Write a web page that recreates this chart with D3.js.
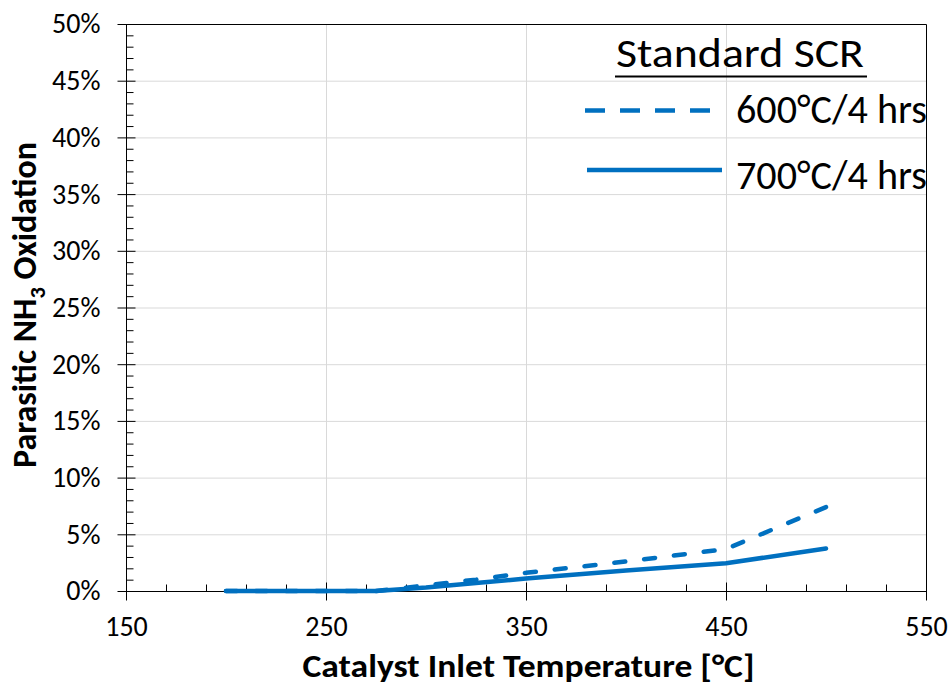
<!DOCTYPE html>
<html>
<head>
<meta charset="utf-8">
<script src="https://cdn.jsdelivr.net/npm/d3@7"></script>
<style>
  body { margin: 0; background: #fff; }
  svg { display: block; font-family: Carlito, Calibri, Lato, sans-serif; }
</style>
</head>
<body>
<svg id="chart" width="952" height="685"></svg>
<script>
// catalyst inlet temperature [°C]
var temps = [200, 250, 275, 300, 325, 350, 400, 450, 500];
// parasitic NH3 oxidation [%]
var ox600 = [0, 0, 0, 0.5, 1.0, 1.6, 2.6, 3.7, 7.4];
var ox700 = [0, 0, 0, 0.3, 0.7, 1.1, 1.8, 2.45, 3.75];
var xTicks = [150, 250, 350, 450, 550];
var yTicks = [0, 5, 10, 15, 20, 25, 30, 35, 40, 45, 50];
var seriesNames = ["600°C/4 hrs", "700°C/4 hrs"];

var blue = "#0070c0";
var svg = d3.select("#chart");

var x = d3.scaleLinear().domain([150, 550]).range([126, 926]);
var y = d3.scaleLinear().domain([0, 50]).range([591, 24]);

// gridlines
svg.append("g").selectAll("line.hg")
  .data(yTicks.slice(1, -1))
  .enter().append("line")
  .attr("x1", x(150)).attr("x2", x(550))
  .attr("y1", function(d) { return y(d) + 0.5; })
  .attr("y2", function(d) { return y(d) + 0.5; })
  .style("stroke", "#d9d9d9").style("stroke-width", 1);

svg.append("g").selectAll("line.vg")
  .data(xTicks.slice(1, -1))
  .enter().append("line")
  .attr("y1", y(0)).attr("y2", y(50))
  .attr("x1", function(d) { return x(d) + 0.5; })
  .attr("x2", function(d) { return x(d) + 0.5; })
  .style("stroke", "#d9d9d9").style("stroke-width", 1);

// frame top / right
svg.append("path")
  .attr("d", "M" + x(150) + "," + (y(50) + 0.5) + "H" + (x(550) + 0.5) + "V" + y(0))
  .style("fill", "none").style("stroke", "#000").style("stroke-width", 1);

// x axis: minor ticks point up, major ticks cross
var xAxis = svg.append("g").attr("transform", "translate(0," + (y(0) + 0.5) + ")");
xAxis.call(d3.axisBottom(x).tickValues(d3.range(150, 551, 20).filter(function(d) { return (d - 150) % 100 != 0; }))
  .tickSize(-7).tickFormat(""));
xAxis.select(".domain").attr("d", "M" + x(150) + ",0H" + x(550));
var xMajor = svg.append("g").attr("transform", "translate(0," + (y(0) + 0.5) + ")")
  .call(d3.axisBottom(x).tickValues(xTicks).tickSize(9).tickPadding(16).tickFormat(d3.format("d")));
xMajor.select(".domain").remove();
xMajor.selectAll(".tick line").attr("y1", -9);
xMajor.selectAll("text").style("font-size", "28px").style("fill", "#000");

// y axis
var yAxis = svg.append("g").attr("transform", "translate(" + (x(150) + 0.5) + ",0)");
yAxis.call(d3.axisLeft(y).tickValues(d3.range(0, 51, 1).filter(function(d) { return d % 5 != 0; }))
  .tickSize(-7).tickFormat(""));
yAxis.select(".domain").attr("d", "M0," + y(0) + "V" + y(50));
var yMajor = svg.append("g").attr("transform", "translate(" + (x(150) + 0.5) + ",0)")
  .call(d3.axisLeft(y).tickValues(yTicks).tickSize(9).tickPadding(17).tickFormat(function(d) { return d + "%"; }));
yMajor.select(".domain").remove();
yMajor.selectAll(".tick line").attr("x1", 9);
yMajor.selectAll("text").style("font-size", "28px").style("fill", "#000");

svg.selectAll(".tick line, .domain").style("stroke", "#000");
svg.selectAll("g").attr("font-family", null);

// lines
var line = d3.line()
  .x(function(d) { return x(d[0]); })
  .y(function(d) { return y(d[1]); });

svg.append("path")
  .datum(d3.zip(temps, ox700))
  .attr("d", line)
  .style("fill", "none").style("stroke", blue).style("stroke-width", 4.5)
  .style("stroke-linecap", "round").style("stroke-linejoin", "round");

svg.append("path")
  .datum(d3.zip(temps, ox600))
  .attr("d", line)
  .style("fill", "none").style("stroke", blue).style("stroke-width", 4.5)
  .style("stroke-dasharray", "11,19")
  .style("stroke-linecap", "round").style("stroke-linejoin", "round");

// legend
svg.append("text")
  .attr("x", 616).attr("y", 67)
  .attr("textLength", 248).attr("lengthAdjust", "spacingAndGlyphs")
  .style("font-size", "42px").style("fill", "#000")
  .text("Standard SCR");
svg.append("line")
  .attr("x1", 615).attr("x2", 867).attr("y1", 76.5).attr("y2", 76.5)
  .style("stroke", "#000").style("stroke-width", 2);

var legY = [110.5, 170];
var legText = [123, 189];
svg.append("line")
  .attr("x1", 585).attr("x2", 710).attr("y1", legY[0]).attr("y2", legY[0])
  .style("stroke", blue).style("stroke-width", 4.5).style("stroke-dasharray", "20,15");
svg.append("line")
  .attr("x1", 587).attr("x2", 722).attr("y1", legY[1]).attr("y2", legY[1])
  .style("stroke", blue).style("stroke-width", 4.5);
svg.selectAll("text.leg")
  .data(seriesNames)
  .enter().append("text")
  .attr("class", "leg")
  .attr("x", 736)
  .attr("y", function(d, i) { return legText[i]; })
  .attr("textLength", 191).attr("lengthAdjust", "spacingAndGlyphs")
  .style("font-size", "40px").style("fill", "#000")
  .text(function(d) { return d; });

// axis titles
svg.append("text")
  .attr("x", 528.5).attr("y", 677)
  .attr("text-anchor", "middle")
  .attr("textLength", 452).attr("lengthAdjust", "spacingAndGlyphs")
  .style("font-size", "32px").style("font-weight", "bold").style("fill", "#000")
  .text("Catalyst Inlet Temperature [°C]");

var fs = 30;
var yt = svg.append("text")
  .attr("transform", "translate(36,305) rotate(-90)")
  .attr("text-anchor", "middle")
  .style("font-weight", "bold").style("fill", "#000");
yt.append("tspan").attr("class", "big").text("Parasitic NH");
yt.append("tspan").attr("class", "sub").text("3");
yt.append("tspan").attr("class", "big").text(" Oxidation");
function sizeTitle(f) {
  yt.selectAll(".big").style("font-size", f + "px");
  yt.select(".sub").style("font-size", (f * 0.66) + "px").attr("dy", f * 0.27);
  yt.selectAll(".big").filter(function(d, i) { return i == 1; }).attr("dy", -f * 0.27);
}
sizeTitle(fs);
// fit to the reference's span of ~326px
var w = yt.node().getComputedTextLength();
sizeTitle(fs * 326 / w);
</script>
</body>
</html>
